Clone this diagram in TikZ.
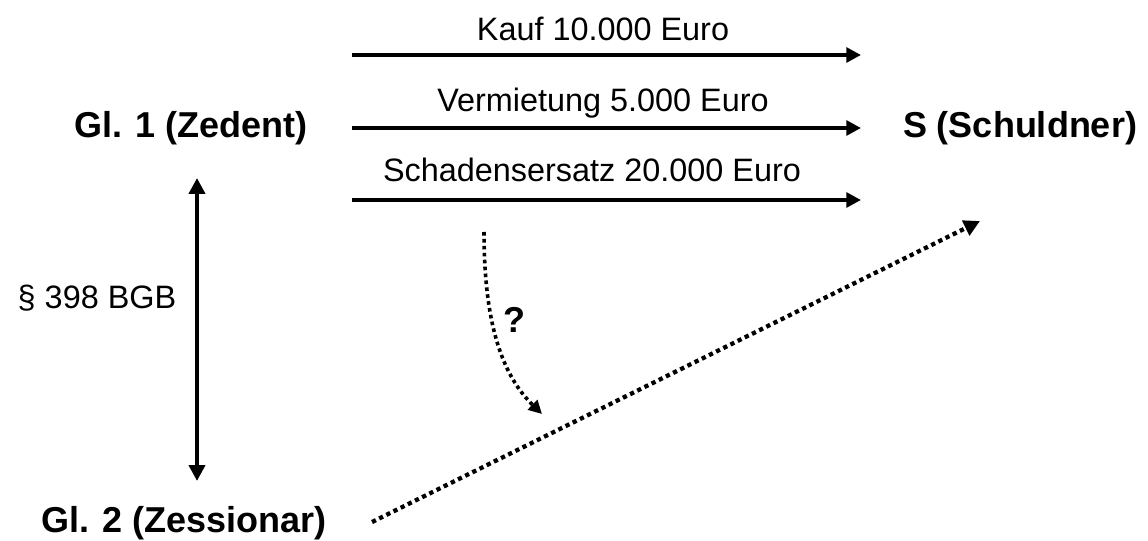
\documentclass[tikz,border=0pt]{standalone}
\usepackage{fontspec}
\setmainfont{Liberation Sans}
\usetikzlibrary{arrows.meta}
\begin{document}
\begin{tikzpicture}[x=0.75pt,y=-0.75pt,
  lbl/.style={inner sep=0pt,anchor=base,font=\fontsize{24.3}{29}\selectfont},
  blbl/.style={inner sep=0pt,anchor=base,font=\fontsize{27}{32}\selectfont\bfseries},
  solidarrow/.style={line width=3.3pt,-{Triangle[length=11pt,width=11pt]}},
  dblarrow/.style={line width=3.3pt,{Triangle[length=12pt,width=12pt]}-{Triangle[length=12pt,width=12pt]}},
  dotline/.style={line width=3.2pt,dash pattern=on 3.2pt off 2.8pt,-{Triangle[length=12pt,width=12pt]}},
  dotcurve/.style={line width=2.7pt,dash pattern=on 2.7pt off 2.5pt,-{Triangle[length=10pt,width=10pt]}}]
\useasboundingbox (0,0) rectangle (1148,541);
% labels
\node[blbl] (gl1) at (191,138) {Gl. 1 (Zedent)};
\node[blbl] (s) at (1020,138) {S (Schuldner)};
\node[blbl] (gl2) at (184,532) {Gl. 2 (Zessionar)};
\node[lbl] (bgb) at (97,309) {§ 398 BGB};
\node[lbl] (kauf) at (603,41) {Kauf 10.000 Euro};
\node[lbl] (verm) at (603,112) {Vermietung 5.000 Euro};
\node[lbl] (schad) at (592,182) {Schadensersatz 20.000 Euro};
\node[blbl] (q) at (514,332) {?};
% coordinates
\coordinate (a1s) at (352,55);  \coordinate (a1e) at (861,55);
\coordinate (a2s) at (352,128); \coordinate (a2e) at (861,128);
\coordinate (a3s) at (352,200); \coordinate (a3e) at (861,200);
\coordinate (vt) at (197,178);  \coordinate (vb) at (197,481);
\coordinate (ds) at (372,522);  \coordinate (de) at (980,221);
\coordinate (cs) at (484,232);  \coordinate (ce) at (542,414);
% connectors
\draw[solidarrow] (a1s) -- (a1e);
\draw[solidarrow] (a2s) -- (a2e);
\draw[solidarrow] (a3s) -- (a3e);
\draw[dblarrow] (vt) -- (vb);
\draw[dotline] (ds) -- (de);
\draw[dotcurve] (cs) .. controls (484,330) and (505,378) .. (ce);
\end{tikzpicture}
\end{document}
